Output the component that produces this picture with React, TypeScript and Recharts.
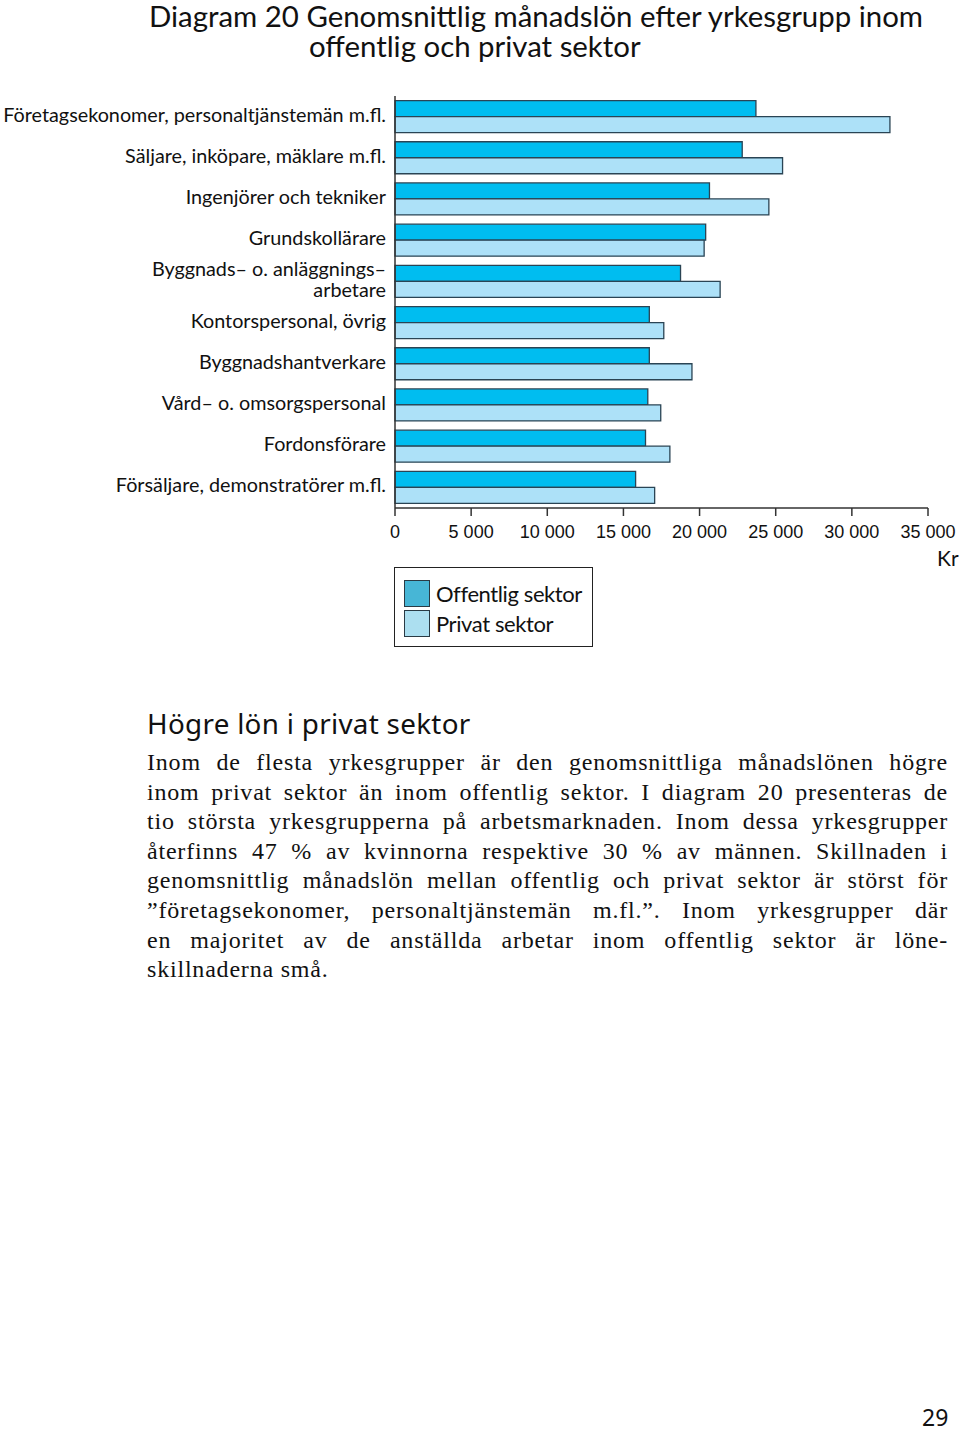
import React from 'react';
import { BarChart, Bar, XAxis, YAxis } from 'recharts';

const categories = [
    'Företagsekonomer, personaltjänstemän m.fl.',
    'Säljare, inköpare, mäklare m.fl.',
    'Ingenjörer och tekniker',
    'Grundskollärare',
    'Byggnads– o. anläggnings–\narbetare',
    'Kontorspersonal, övrig',
    'Byggnadshantverkare',
    'Vård– o. omsorgspersonal',
    'Fordonsförare',
    'Försäljare, demonstratörer m.fl.',
];
const offentlig = [23700, 22800, 20650, 20400, 18750, 16700, 16700, 16600, 16450, 15800];
const privat = [32500, 25450, 24550, 20300, 21350, 17650, 19500, 17450, 18050, 17050];
const xTicks = [0, 5000, 10000, 15000, 20000, 25000, 30000, 35000];

const paragraph = [
    'Inom de flesta yrkesgrupper är den genomsnittliga månadslönen högre',
    'inom privat sektor än inom offentlig sektor. I diagram 20 presenteras de',
    'tio största yrkesgrupperna på arbetsmarknaden. Inom dessa yrkesgrupper',
    'återfinns 47 % av kvinnorna respektive 30 % av männen. Skillnaden i',
    'genomsnittlig månadslön mellan offentlig och privat sektor är störst för',
    '”företagsekonomer, personaltjänstemän m.fl.”. Inom yrkesgrupper där',
    'en majoritet av de anställda arbetar inom offentlig sektor är löne-',
    'skillnaderna små.',
];

const data = categories.map((name, i) => ({ name, offentlig: offentlig[i], privat: privat[i] }));

const LABEL_FONT = 'Lato, "Noto Sans", sans-serif';
const BAR_STROKE = '#2a4454';

const fmt = (v: number) => (v === 0 ? '0' : v.toLocaleString('en-US').replace(/,/g, ' '));

function CategoryTick(props: any) {
    const { x, y, payload } = props;
    const lines: string[] = String(payload.value).split('\n');
    const lh = 21;
    const start = -((lines.length - 1) * lh) / 2;
    return (
        <text x={x} y={y} textAnchor="end" fontSize={19.8} fontFamily={LABEL_FONT} fill="#111">
            {lines.map((l, i) => (
                <tspan key={i} x={x} dy={i === 0 ? start + 5 : lh}>
                    {l}
                </tspan>
            ))}
        </text>
    );
}

function LegendBox() {
    const items = [
        { label: 'Offentlig sektor', color: '#47b6d6' },
        { label: 'Privat sektor', color: '#acdff0' },
    ];
    return (
        <div style={{ position: 'absolute', left: 394, top: 567, width: 197, height: 78, border: '1.5px solid #222', background: '#fff' }}>
            {items.map((it, i) => (
                <div key={i} style={{ display: 'flex', alignItems: 'center', height: 30, marginTop: i === 0 ? 10 : 0 }}>
                    <div style={{ width: 24, height: 25, background: it.color, border: '1.5px solid #2a3a44', marginLeft: 9, marginRight: 6 }} />
                    <span style={{ fontFamily: LABEL_FONT, fontSize: 22, color: '#111', letterSpacing: -0.4 }}>{it.label}</span>
                </div>
            ))}
        </div>
    );
}

export default function App() {
    const titleStyle: React.CSSProperties = { position: 'absolute', fontFamily: LABEL_FONT, fontSize: 29.4, color: '#111', whiteSpace: 'nowrap', lineHeight: '30px' };
    return (
        <div style={{ position: 'absolute', left: 0, top: 0, width: 960, height: 1431, background: '#fff', overflow: 'hidden' }}>
            <div style={{ ...titleStyle, left: 149, top: 1 }}>Diagram 20 Genomsnittlig månadslön efter yrkesgrupp inom</div>
            <div style={{ ...titleStyle, left: 309, top: 31 }}>offentlig och privat sektor</div>

            <div style={{ position: 'absolute', left: 0, top: 0 }}>
                <BarChart
                    width={960}
                    height={548}
                    data={data}
                    layout="vertical"
                    margin={{ top: 96, right: 32, bottom: 0, left: 0 }}
                    barCategoryGap="11%"
                    barGap={0}
                >
                    <XAxis
                        type="number"
                        domain={[0, 35000]}
                        ticks={xTicks}
                        tickFormatter={fmt}
                        height={40}
                        tickSize={8}
                        tickMargin={9}
                        axisLine={{ stroke: '#333', strokeWidth: 1.5 }}
                        tickLine={{ stroke: '#333', strokeWidth: 1.5 }}
                        tick={{ fontSize: 18, fontFamily: '"Liberation Sans", Arial, sans-serif', fill: '#111' }}
                        interval={0}
                    />
                    <XAxis xAxisId="top" orientation="top" type="number" domain={[0, 35000]} height={0} tick={false} tickLine={false} axisLine={{ stroke: '#333', strokeWidth: 1.5 }} />
                    <YAxis
                        type="category"
                        dataKey="name"
                        width={395}
                        tickSize={0}
                        tickMargin={9}
                        tickLine={false}
                        axisLine={{ stroke: '#333', strokeWidth: 1.5 }}
                        tick={<CategoryTick />}
                        interval={0}
                    />
                    <YAxis yAxisId="right" orientation="right" type="category" dataKey="name" width={0} tick={false} tickLine={false} axisLine={{ stroke: '#333', strokeWidth: 1.5 }} />
                    <Bar dataKey="offentlig" name="Offentlig sektor" fill="#00bdf0" stroke={BAR_STROKE} strokeWidth={1.3} isAnimationActive={false} />
                    <Bar dataKey="privat" name="Privat sektor" fill="#ade1f8" stroke={BAR_STROKE} strokeWidth={1.3} isAnimationActive={false} />
                </BarChart>
            </div>

            <LegendBox />

            <div style={{ position: 'absolute', left: 937, top: 545, fontFamily: LABEL_FONT, fontSize: 21, color: '#111' }}>Kr</div>

            <div style={{ position: 'absolute', left: 147, top: 705, fontFamily: '"Noto Sans", sans-serif', fontSize: 27.8, color: '#111', letterSpacing: 0.3, whiteSpace: 'nowrap', lineHeight: '36px' }}>
                Högre lön i privat sektor
            </div>
            <div style={{ position: 'absolute', left: 147, top: 748, width: 801, fontFamily: '"Liberation Serif", serif', fontSize: 24, letterSpacing: 0.8, color: '#111', lineHeight: '29.6px' }}>
                {paragraph.map((l, i) => (
                    <div key={i} style={{ textAlign: 'justify', textAlignLast: i === paragraph.length - 1 ? 'left' : 'justify', whiteSpace: 'nowrap' }}>
                        {l}
                    </div>
                ))}
            </div>

            <div style={{ position: 'absolute', left: 922, top: 1406, fontFamily: '"Noto Sans", sans-serif', fontSize: 23, lineHeight: '23px', color: '#111' }}>29</div>
        </div>
    );
}
